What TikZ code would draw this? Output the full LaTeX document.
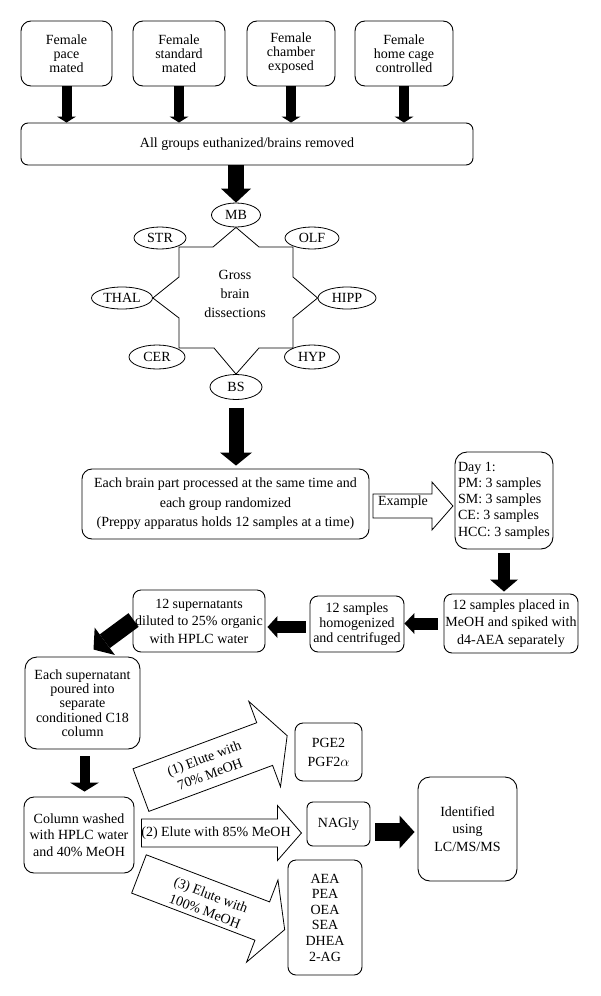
\documentclass[tikz,border=0pt]{standalone}
\usepackage{fontspec}
\setmainfont{Liberation Serif}
\usetikzlibrary{shapes.geometric,arrows.meta,calc}
\newcommand\myfs[2]{\fontsize{#1}{#2}\selectfont}
\newcommand\openarr[6]{\draw[openline, shift={#1}, rotate=#2] (0,#5) -- ({#3-#4},#5) -- ({#3-#4},#6) -- (#3,0) -- ({#3-#4},-#6) -- ({#3-#4},-#5) -- (0,-#5) -- cycle;}
\begin{document}
\begin{tikzpicture}[x=1pt,y=-1pt,
  box/.style={draw, line width=0.9pt, rounded corners=8pt, inner sep=0pt, align=center, font=\myfs{14}{16}},
  ell/.style={draw, ellipse, line width=0.8pt, inner sep=0pt, font=\myfs{14}{16}},
  starline/.style={line width=0.8pt},
  openline/.style={line width=0.8pt, line join=miter},
  lbl/.style={inner sep=0pt, align=center, font=\myfs{14}{17}},
  blk/.style n args={4}{line width=#1, -{Triangle[width=#2,length=#3,line width=0pt]}, #4},
]
\fill[white] (0,0) rectangle (600,996);
\useasboundingbox (0,0) rectangle (600,996);

% top boxes
\node[box, rounded corners=10pt, minimum width=91pt, minimum height=65pt, font=\myfs{14}{14}] (b1) at (66.5,53.5) {Female\\pace\\mated};
\node[box, rounded corners=10pt, minimum width=92pt, minimum height=65pt, font=\myfs{14}{14}] (b2) at (179,53.5) {Female\\standard\\mated};
\node[box, rounded corners=10pt, minimum width=88pt, minimum height=65pt, font=\myfs{14}{14}] (b3) at (291,53.5) {Female\\chamber\\exposed};
\node[box, rounded corners=10pt, minimum width=98pt, minimum height=65pt, font=\myfs{14}{14}] (b4) at (404,53.5) {Female\\home cage\\controlled};
\node[box, rounded corners=7pt, minimum width=452pt, minimum height=42pt] (all) at (247,144) {All groups euthanized/brains removed};

\foreach \b in {b1,b2,b3,b4}
  \draw[blk={10pt}{19pt}{6pt}{}] (\b.south) -- (\b.south |- all.north);

% star
\node[ell, minimum width=49pt, minimum height=24pt] (MB) at (236,215) {MB};
\node[ell, minimum width=52pt, minimum height=22pt] (STR) at (160,238) {STR};
\node[ell, minimum width=54pt, minimum height=22pt] (OLF) at (312,238) {OLF};
\node[ell, minimum width=61pt, minimum height=22pt] (THAL) at (122,298) {THAL};
\node[ell, minimum width=58pt, minimum height=22pt] (HIPP) at (347,298) {HIPP};
\node[ell, minimum width=56pt, minimum height=24pt] (CER) at (157,357) {CER};
\node[ell, minimum width=55pt, minimum height=24pt] (HYP) at (312,357) {HYP};
\node[ell, minimum width=52pt, minimum height=25pt] (BS) at (236,387) {BS};
\node[lbl, font=\myfs{14}{19}] (gbd) at (235,294) {Gross\\brain\\dissections};

\draw[starline] (MB.south) -- (213,247) -- (179,247) -- (179,277) -- (THAL.east) -- (179,318) -- (179,348) -- (214,348) -- (BS.north) -- (259,348) -- (293,348) -- (293,318) -- (HIPP.west) -- (293,277) -- (293,247) -- (259,247) -- cycle;

\draw[blk={16pt}{30pt}{14pt}{}] (all.south -| MB.north) -- (MB.north);

% processing row
\node[box, rounded corners=10pt, minimum width=287pt, minimum height=70pt, font=\myfs{14}{19.5}] (each) at (225.5,504) {Each brain part processed at the same time and\\each group randomized\\(Preppy apparatus holds 12 samples at a time)};
\draw[blk={15pt}{32pt}{13pt}{}] ($(BS.south)+(0,8)$) -- ($(BS.south |- each.north)+(0,-3)$);

\node[box, rounded corners=12pt, minimum width=98pt, minimum height=97pt, align=left, font=\myfs{14}{16.3}] (day1) at (504,500.5) {Day 1:\\PM: 3 samples\\SM: 3 samples\\CE: 3 samples\\HCC: 3 samples};
\openarr{($(each.east)+(3.5,2)$)}{0}{80}{21}{12}{24}
\node[lbl] (ex) at (403,502) {Example};

\node[box, minimum width=134pt, minimum height=59pt, font=\myfs{14}{17.5}] (placed) at (511,623.5) {12 samples placed in\\MeOH and spiked with\\d4-AEA separately};
\draw[blk={12pt}{28pt}{12pt}{}] ($(day1.south)+(0,4)$) -- ($(day1.south |- placed.north)+(0,-2)$);

\node[box, minimum width=94pt, minimum height=56pt, font=\myfs{14}{15}] (homog) at (357,624) {12 samples\\homogenized\\and centrifuged};
\draw[blk={12pt}{21pt}{10pt}{}] ($(placed.west)+(-6,0)$) -- (homog.east |- placed.west);

\node[box, minimum width=132pt, minimum height=62pt, font=\myfs{14}{17.5}] (super) at (199,621) {12 supernatants\\diluted to 25\% organic\\with HPLC water};
\draw[blk={12pt}{22pt}{10pt}{}] ($(homog.west)+(-4,3)$) -- ($(super.east)+(2,6)$);

\node[box, rounded corners=12pt, minimum width=115pt, minimum height=92pt, font=\myfs{14}{14.3}] (eachsup) at (82.5,703) {Each supernatant\\poured into\\separate\\conditioned C18\\column};
\draw[blk={17pt}{34pt}{14pt}{}] ($(super.west)+(1,-1)$) -- ($(eachsup.north)+(11,-7)$);

\node[box, rounded corners=10pt, minimum width=110pt, minimum height=76pt, font=\myfs{14}{16.5}] (column) at (79,835) {Column washed\\with HPLC water\\and 40\% MeOH};
\draw[blk={10pt}{29pt}{9pt}{}] ($(eachsup.south)+(2,7)$) -- ($(eachsup.south |- column.north)+(2,-5)$);

% results
\node[box, minimum width=67pt, minimum height=58pt, font=\myfs{14}{19}] (pge) at (328.5,752) {PGE2\\PGF2$\alpha$};
\node[box, rounded corners=6pt, minimum width=63pt, minimum height=44pt] (nagly) at (338.5,824) {NAGly};
\node[box, minimum width=74pt, minimum height=115pt, font=\myfs{14}{15.6}] (aea) at (325,917.5) {AEA\\PEA\\OEA\\SEA\\DHEA\\2-AG};
\node[box, rounded corners=12pt, minimum width=99pt, minimum height=104pt, font=\myfs{14}{17.5}] (ident) at (467.5,829) {Identified\\using\\LC/MS/MS};

\openarr{($(column.north east)+(6.5,-6.5)$)}{20.4}{156}{24}{22.75}{45.5}
\node[lbl, rotate=20.4] (e1) at (207,766) {(1) Elute with\\70\% MeOH};
\openarr{($(column.east)+(7,-2)$)}{0}{160}{24}{14}{27.5}
\node[lbl] (e2) at (216,833) {(2) Elute with 85\% MeOH};
\openarr{($(column.south east)+(4.5,0.5)$)}{-20.9}{156}{24}{20.5}{44}
\node[lbl, rotate=-20.9] (e3) at (208,903) {(3) Elute with\\100\% MeOH};

\draw[blk={18pt}{33pt}{15pt}{}] ($(nagly.east)+(5,8)$) -- ($(ident.west |- nagly.east)+(-3,8)$);
\end{tikzpicture}
\end{document}
